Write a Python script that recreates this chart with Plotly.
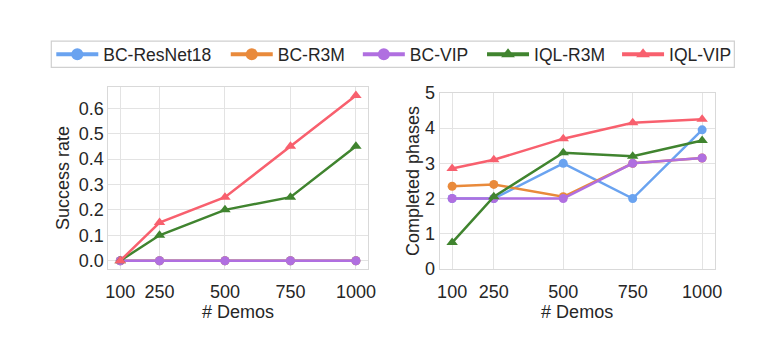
import plotly.graph_objects as go

demos = [100, 250, 500, 750, 1000]
series_names = ["BC-ResNet18", "BC-R3M", "BC-VIP", "IQL-R3M", "IQL-VIP"]
success_bc_resnet18 = [0.0, 0.0, 0.0, 0.0, 0.0]
success_bc_r3m = [0.0, 0.0, 0.0, 0.0, 0.0]
success_bc_vip = [0.0, 0.0, 0.0, 0.0, 0.0]
success_iql_r3m = [0.0, 0.10, 0.20, 0.25, 0.45]
success_iql_vip = [0.0, 0.15, 0.25, 0.45, 0.65]
phases_bc_resnet18 = [2.0, 2.0, 3.0, 2.0, 3.95]
phases_bc_r3m = [2.35, 2.4, 2.05, 3.0, 3.15]
phases_bc_vip = [2.0, 2.0, 2.0, 3.0, 3.15]
phases_iql_r3m = [0.75, 2.05, 3.3, 3.2, 3.65]
phases_iql_vip = [2.85, 3.1, 3.7, 4.15, 4.25]
success_ticks = [0.0, 0.1, 0.2, 0.3, 0.4, 0.5, 0.6]
phase_ticks = [0, 1, 2, 3, 4, 5]

colors = ["#6aa3f0", "#e98a3b", "#b06fe0", "#40842f", "#f8606e"]
symbols = ["circle", "circle", "circle", "triangle-up", "triangle-up"]
success = [success_bc_resnet18, success_bc_r3m, success_bc_vip, success_iql_r3m, success_iql_vip]
phases = [phases_bc_resnet18, phases_bc_r3m, phases_bc_vip, phases_iql_r3m, phases_iql_vip]

FONT = "Liberation Sans, Arial, sans-serif"
TXT = "#262626"

fig = go.Figure()
legend_names = ["legend", "legend2", "legend3", "legend4", "legend5"]
for i, name in enumerate(series_names):
    msize = 9 if symbols[i] == "circle" else 10
    fig.add_trace(go.Scatter(
        x=demos, y=success[i], mode="lines+markers", name=name,
        line=dict(color=colors[i], width=2.5),
        marker=dict(color=colors[i], size=msize, symbol=symbols[i]),
        xaxis="x", yaxis="y", showlegend=False))
    fig.add_trace(go.Scatter(
        x=demos, y=phases[i], mode="lines+markers", name=name,
        line=dict(color=colors[i], width=2.5),
        marker=dict(color=colors[i], size=msize, symbol=symbols[i]),
        xaxis="x2", yaxis="y2", showlegend=False))
# legend entries (no data, only legend symbols)
for i, name in enumerate(series_names):
    fig.add_trace(go.Scatter(
        x=[None], y=[None], mode="lines+markers", name=name,
        line=dict(color=colors[i], width=4),
        marker=dict(color=colors[i], size=12, symbol=symbols[i]),
        xaxis="x", yaxis="y", legend=legend_names[i], showlegend=True))

W, H = 766, 343
def px(x):
    return x / W
def py(y):
    return 1 - y / H

axis_common = dict(
    showgrid=True, gridcolor="#e3e3e3", gridwidth=1,
    showline=True, linecolor="#d9d9d9", linewidth=1, mirror=True,
    zeroline=False, ticks="", color=TXT,
    tickfont=dict(family=FONT, size=18, color=TXT),
)
TF = dict(family=FONT, size=18, color=TXT)

layout = dict(
    width=W, height=H,
    margin=dict(l=0, r=0, t=0, b=0),
    paper_bgcolor="white", plot_bgcolor="white",
    font=dict(family=FONT, size=16, color=TXT),
    xaxis=dict(domain=[px(107), px(370)], range=[55, 1045], tickvals=demos, ticklabelstandoff=6,
               title=dict(text="# Demos", standoff=1, font=TF), anchor="y", **axis_common),
    yaxis=dict(domain=[py(275), py(82)], range=[-0.0325, 0.6825], tickvals=success_ticks,
               tickformat=".1f", title=dict(text="Success rate", standoff=4, font=TF),
               anchor="x", **axis_common),
    xaxis2=dict(domain=[px(443), px(722)], range=[55, 1045], tickvals=demos, ticklabelstandoff=6,
                title=dict(text="# Demos", standoff=1, font=TF), anchor="y2", **axis_common),
    yaxis2=dict(domain=[py(275), py(88)], range=[0, 5], tickvals=phase_ticks,
                title=dict(text="Completed phases", standoff=0, font=TF),
                anchor="x2", **axis_common),
    shapes=[dict(type="rect", xref="paper", yref="paper",
                 x0=px(49), x1=px(742), y0=py(61), y1=py(33),
                 line=dict(color="#d0d0d0", width=1.2), fillcolor="rgba(0,0,0,0)", layer="below")],
)
legend_x = [49, 226, 360, 486, 623]
for i, lg in enumerate(legend_names):
    layout[lg] = dict(x=px(legend_x[i]), y=py(47), xanchor="left", yanchor="middle",
                      orientation="h", bgcolor="rgba(0,0,0,0)", borderwidth=0,
                      itemwidth=42, font=dict(family=FONT, size=17.5, color=TXT))
fig.update_layout(**layout)
fig.write_html("out.html")
